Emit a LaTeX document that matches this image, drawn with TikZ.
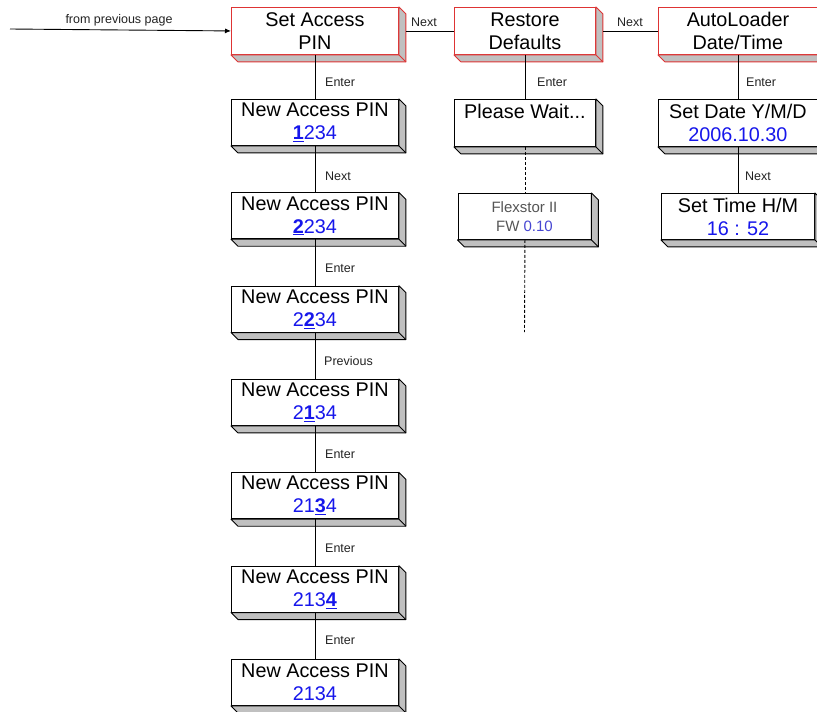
\documentclass[tikz,border=0pt]{standalone}
\usepackage{fontspec}
\setmainfont{Liberation Sans}
\usetikzlibrary{arrows.meta}
\definecolor{boxred}{RGB}{222,52,52}
\definecolor{shadegray}{RGB}{192,192,192}
\definecolor{pinblue}{RGB}{22,22,235}
\definecolor{fwgray}{RGB}{85,85,85}
\definecolor{fwblue}{RGB}{70,70,210}
\definecolor{lblgray}{RGB}{35,35,35}
\newcommand{\ud}[1]{\underline{\textbf{#1}}}
\newcommand{\extrude}[2]{%
  \filldraw[fill=shadegray, draw=#2, line width=0.9pt, line join=round]
    (#1.north east) -- ++(7pt,-7pt) -- ([shift={(7pt,-7pt)}]#1.south east)
    -- ([shift={(7pt,-7pt)}]#1.south west) -- (#1.south west) -- (#1.south east) -- cycle;
  \draw[draw=#2, line width=0.9pt] (#1.south east) -- ++(7pt,-7pt);}
\begin{document}
\begin{tikzpicture}[x=1pt,y=-1pt,
  box3d/.style={draw=black, fill=white, line width=0.9pt, rectangle, inner sep=0pt,
    anchor=north west, align=center, font=\fontsize{19.8}{23}\selectfont},
  redbox/.style={box3d, draw=boxred},
  lbl/.style={font=\fontsize{12.5}{14}\selectfont, text=lblgray, inner sep=0pt, anchor=west},
  conn/.style={draw=black, line width=0.9pt},
  dconn/.style={draw=black, line width=0.9pt, dash pattern=on 3pt off 2pt}]
\useasboundingbox (0,0) rectangle (817,712);
\fill[white] (0,0) rectangle (817,712);
% top row
\node[redbox, minimum width=167pt, minimum height=47pt] (sap) at (231,7) {Set Access\\PIN};
\node[redbox, minimum width=141pt, minimum height=47pt] (rd) at (454,7) {Restore\\Defaults};
\node[redbox, minimum width=159pt, minimum height=47pt] (al) at (658,7) {AutoLoader\\Date/Time};
\extrude{sap}{boxred}\extrude{rd}{boxred}\extrude{al}{boxred}
% column 1
\node[box3d, minimum width=167pt, minimum height=46pt] (n1) at (231,99) {New Access PIN\\\textcolor{pinblue}{\ud{1}234}};
\node[box3d, minimum width=167pt, minimum height=46pt] (n2) at (231,192.3) {New Access PIN\\\textcolor{pinblue}{\ud{2}234}};
\node[box3d, minimum width=167pt, minimum height=46pt] (n3) at (231,285.7) {New Access PIN\\\textcolor{pinblue}{2\ud{2}34}};
\node[box3d, minimum width=167pt, minimum height=46pt] (n4) at (231,379) {New Access PIN\\\textcolor{pinblue}{2\ud{1}34}};
\node[box3d, minimum width=167pt, minimum height=46pt] (n5) at (231,472.3) {New Access PIN\\\textcolor{pinblue}{21\ud{3}4}};
\node[box3d, minimum width=167pt, minimum height=46pt] (n6) at (231,565.7) {New Access PIN\\\textcolor{pinblue}{213\ud{4}}};
\node[box3d, minimum width=167pt, minimum height=46pt] (n7) at (231,659) {New Access PIN\\\textcolor{pinblue}{2134}};
\foreach \n in {n1,n2,n3,n4,n5,n6,n7} {\extrude{\n}{black}}
% column 2
\node[box3d, minimum width=141pt, minimum height=47pt] (pw) at (454,99) {Please Wait...\\\mbox{}};
\node[box3d, minimum width=133pt, minimum height=46pt, font=\fontsize{15}{19}\selectfont, text=fwgray] (fx) at (457.5,193) {Flexstor II\\FW \textcolor{fwblue}{0.10}};
\extrude{pw}{black}\extrude{fx}{black}
% column 3
\node[box3d, minimum width=159pt, minimum height=47pt] (sd) at (658,99) {Set Date Y/M/D\\\textcolor{pinblue}{2006.10.30}};
\node[box3d, minimum width=153pt, minimum height=46pt] (st) at (661,193) {Set Time H/M\\\textcolor{pinblue}{16 : 52}};
\extrude{sd}{black}\extrude{st}{black}
% connectors
\coordinate (start) at (10,29);
\draw[conn, -{Latex[length=6pt,width=5pt]}] (start) -- (sap.west);
\draw[conn] ([xshift=7pt]sap.east) -- (rd.west);
\draw[conn] ([xshift=7pt]rd.east) -- (al.west);
\draw[conn] (sap.south) -- (n1.north);
\draw[conn] (n1.south) -- (n2.north);
\draw[conn] (n2.south) -- (n3.north);
\draw[conn] (n3.south) -- (n4.north);
\draw[conn] (n4.south) -- (n5.north);
\draw[conn] (n5.south) -- (n6.north);
\draw[conn] (n6.south) -- (n7.north);
\draw[conn] (rd.south) -- (rd.south |- pw.north);
\draw[conn] (al.south) -- (al.south |- sd.north);
\draw[conn] (sd.south) -- (sd.south |- st.north);
\coordinate (dend) at (524.5,332);
\draw[dconn] (pw.south) -- (pw.south |- fx.north);
\draw[dconn] (pw.south |- fx.south) -- (dend);
% labels
\node[lbl, anchor=center] (lfp) at (119,20) {from previous page};
\node[lbl, anchor=center] (ln1) at (424,22) {Next};
\node[lbl, anchor=center] (ln2) at (630,22) {Next};
\node[lbl] (le1) at (325,82) {Enter};
\node[lbl] (le2) at (325,176) {Next};
\node[lbl] (le3) at (325,268) {Enter};
\node[lbl] (le4) at (324,361) {Previous};
\node[lbl] (le5) at (325,454) {Enter};
\node[lbl] (le6) at (325,548) {Enter};
\node[lbl] (le7) at (325,640) {Enter};
\node[lbl] (le8) at (537,82) {Enter};
\node[lbl] (le9) at (746,82) {Enter};
\node[lbl] (le10) at (745,176) {Next};
\end{tikzpicture}
\end{document}
